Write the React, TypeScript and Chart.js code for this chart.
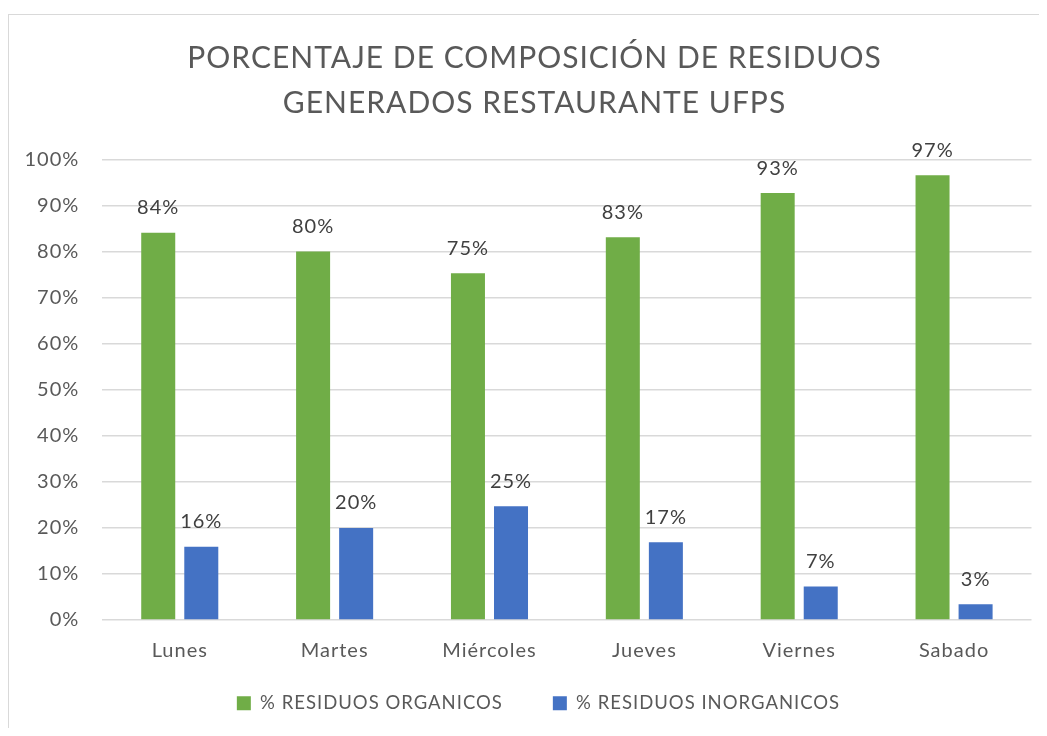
import React, { useEffect, useRef } from "react";
import { Chart, registerables } from "chart.js";

Chart.register(...registerables);

const categories = ["Lunes", "Martes", "Miércoles", "Jueves", "Viernes", "Sabado"];
const organicos = [84.1, 80.0, 75.3, 83.1, 92.7, 96.6];
const inorganicos = [15.9, 20.0, 24.7, 16.9, 7.3, 3.4];
const seriesNames = ["% RESIDUOS ORGANICOS", "% RESIDUOS INORGANICOS"];
const titleLines = ["PORCENTAJE DE COMPOSICIÓN DE RESIDUOS", "GENERADOS RESTAURANTE UFPS"];
const yTickStep = 10;

const FONT = "Lato, 'Open Sans', sans-serif";
const SPACING = "1px";

const LEGEND_PAD = 50;
const LEGEND_FIT_CUT = 21;
const LEGEND_LIFT = 19;

const labelPlugin = {
  id: "barLabels",
  beforeUpdate(chart: any) {
    chart.ctx.letterSpacing = SPACING;
    const leg = chart.legend;
    if (leg && !leg.__patched) {
      leg.__patched = true;
      const orig = leg.fit.bind(leg);
      leg.fit = function () {
        orig();
        this.height -= LEGEND_FIT_CUT;
      };
    }
  },
  afterLayout(chart: any) {
    const leg = chart.legend;
    if (leg) {
      leg.top -= LEGEND_LIFT;
      leg.left += 12;
      leg.right += 12;
    }
    const t = chart.titleBlock;
    if (t) {
      t.left += 8;
      t.right += 8;
    }
  },
  beforeDraw(chart: any) {
    chart.ctx.letterSpacing = SPACING;
  },
  afterDatasetsDraw(chart: any) {
    const ctx = chart.ctx;
    ctx.save();
    ctx.letterSpacing = SPACING;
    ctx.font = `20px ${FONT}`;
    ctx.fillStyle = "#404040";
    ctx.textAlign = "center";
    ctx.textBaseline = "bottom";
    chart.data.datasets.forEach((ds: any, i: number) => {
      const meta = chart.getDatasetMeta(i);
      meta.data.forEach((el: any, j: number) => {
        const v = ds.data[j];
        ctx.fillText(Math.round(v) + "%", el.x, el.y - 15);
      });
    });
    ctx.restore();
  },
};

export default function App() {
  const ref = useRef<HTMLCanvasElement>(null);
  useEffect(() => {
    if (!ref.current) return;
    const chart = new Chart(ref.current, {
      type: "bar",
      data: {
        labels: categories,
        datasets: [
          {
            label: seriesNames[0],
            data: organicos,
            backgroundColor: "#70ad47",
            categoryPercentage: 0.556,
            barPercentage: 0.79,
          },
          {
            label: seriesNames[1],
            data: inorganicos,
            backgroundColor: "#4472c4",
            categoryPercentage: 0.556,
            barPercentage: 0.79,
          },
        ],
      },
      options: {
        animation: false,
        responsive: false,
        layout: { padding: { left: 12.5, right: 14.5, top: 21, bottom: 6.5 } },
        plugins: {
          title: {
            display: true,
            text: titleLines,
            color: "#595959",
            font: { family: FONT, size: 30, weight: "normal", lineHeight: 1.5 },
            padding: { top: 0, bottom: 33.5 },
          },
          legend: {
            position: "bottom",
            labels: {
              color: "#595959",
              font: { family: FONT, size: 18.5 },
              boxWidth: 14,
              boxHeight: 14,
              padding: LEGEND_PAD,
            },
          },
          tooltip: { enabled: false },
        },
        scales: {
          x: {
            grid: { display: false, drawTicks: true, tickLength: 19 },
            border: { display: false },
            ticks: { color: "#595959", font: { family: FONT, size: 20 }, padding: 0 },
          },
          y: {
            min: 0,
            max: 100,
            ticks: {
              stepSize: yTickStep,
              color: "#595959",
              font: { family: FONT, size: 20 },
              padding: 3,
              callback: (v: any) => v + "%",
            },
            grid: {
              color: "#d9d9d9",
              lineWidth: 1.5,
              drawTicks: true,
              tickLength: 20,
              tickColor: "rgba(0,0,0,0)",
            },
            border: { display: false },
          },
        },
      },
      plugins: [labelPlugin],
    });
    return () => chart.destroy();
  }, []);
  return (
    <div
      style={{
        marginTop: 6,
        width: 1039,
        height: 714,
        borderLeft: "1.5px solid #d9d9d9",
        borderTop: "1.5px solid #d9d9d9",
        boxSizing: "border-box",
        overflow: "hidden",
        background: "#fff",
      }}
    >
      <canvas ref={ref} width={1037} height={712} style={{ display: "block" }} />
    </div>
  );
}
